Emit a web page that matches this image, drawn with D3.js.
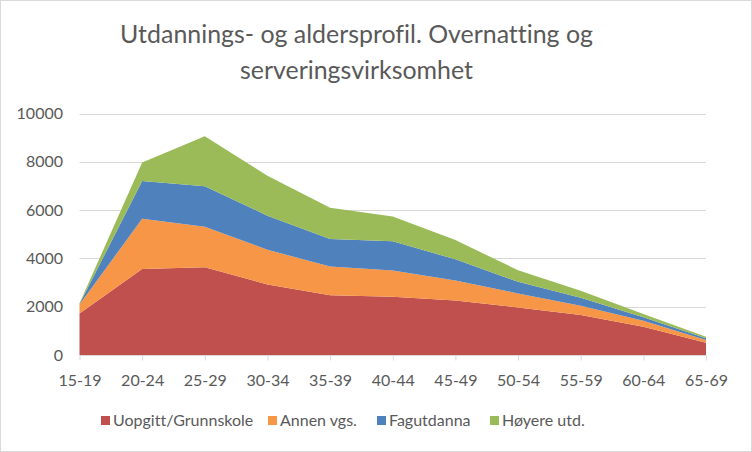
<!DOCTYPE html>
<html><head><meta charset="utf-8">
<script src="https://cdn.jsdelivr.net/npm/d3@7"></script>
<style>body{margin:0;background:#fff;}svg{display:block;font-family:Lato,"Open Sans",sans-serif;font-variant-ligatures:none;font-feature-settings:"liga" 0;}</style>
</head><body>
<script>
const categories = ["15-19","20-24","25-29","30-34","35-39","40-44","45-49","50-54","55-59","60-64","65-69"];
const seriesNames = ["Uopgitt/Grunnskole","Annen vgs.","Fagutdanna","Høyere utd."];
const uopgitt   = [1720,3560,3630,2920,2470,2410,2260,1970,1655,1170,510];
const annenVgs  = [370,2080,1680,1440,1190,1090,830,580,385,250,110];
const fagutdanna= [20,1570,1680,1410,1140,1210,870,480,330,140,70];
const hoyere    = [30,760,2070,1650,1300,1020,800,480,290,140,70];
const yTicks = [0,2000,4000,6000,8000,10000];
const colors = ["#C0504D","#F79646","#4F81BD","#9BBB59"];
const titleLines = ["Utdannings- og aldersprofil. Overnatting og","serveringsvirksomhet"];

const W=752,H=452;
const svg=d3.select("body").append("svg").attr("width",W).attr("height",H);
svg.append("rect").attr("x",0.5).attr("y",0.5).attr("width",W-1).attr("height",H-1).attr("fill","#fff").attr("stroke","#D9D9D9");

const x=d3.scalePoint().domain(categories).range([79.5,706]);
const y=d3.scaleLinear().domain([0,10000]).range([355,113.5]);

const data=categories.map((c,i)=>({cat:c,s0:uopgitt[i],s1:annenVgs[i],s2:fagutdanna[i],s3:hoyere[i]}));
const stack=d3.stack().keys(["s0","s1","s2","s3"])(data);

// grid
svg.append("g").selectAll("line").data(yTicks.filter(d=>d>0)).join("line")
  .attr("x1",79.5).attr("x2",706).attr("y1",d=>Math.round(y(d))+0.5).attr("y2",d=>Math.round(y(d))+0.5)
  .attr("stroke","#D9D9D9").attr("stroke-width",1);

const area=d3.area().x(d=>x(d.data.cat)).y0(d=>y(d[0])).y1(d=>y(d[1]));
svg.append("g").selectAll("path").data(stack).join("path")
  .attr("d",area).attr("fill",(d,i)=>colors[i]);

// x axis
const xa=svg.append("g").attr("transform",`translate(0,${Math.round(y(0))+0.5})`)
  .call(d3.axisBottom(x).tickSize(5).tickSizeOuter(0));
xa.select(".domain").attr("stroke","#D9D9D9").attr("d","M79.5,0H706");
xa.selectAll(".tick line").attr("stroke","#D9D9D9");
xa.selectAll(".tick text").attr("fill","#595959").attr("font-size",16).attr("dy",0).attr("y",30)
  .attr("font-family","Lato, sans-serif");

// y axis labels
const ya=svg.append("g").attr("transform","translate(63,0)")
  .call(d3.axisLeft(y).tickValues(yTicks).tickSize(0).tickFormat(d3.format("d")));
ya.select(".domain").remove();
ya.selectAll(".tick text").attr("fill","#595959").attr("font-size",16).attr("x",0)
  .attr("font-family","Lato, sans-serif");

// title
const tt=svg.append("g").selectAll("text").data(titleLines).join("text")
  .attr("x",356.5).attr("y",(d,i)=>43+i*36).attr("text-anchor","middle")
  .attr("fill","#595959").attr("font-size",25).text(d=>d);
const w0=tt.nodes()[0].getComputedTextLength();
tt.attr("font-size",25*473/w0);

// legend
const lx=[101,268,377,490];
const leg=svg.append("g").selectAll("g").data(seriesNames).join("g")
  .attr("transform",(d,i)=>`translate(${lx[i]},0)`);
leg.append("rect").attr("x",0).attr("y",416).attr("width",9).attr("height",9).attr("fill",(d,i)=>colors[i]);
leg.append("text").attr("x",12).attr("y",426).attr("fill","#595959").attr("font-size",16).text(d=>d);
</script>
</body></html>
